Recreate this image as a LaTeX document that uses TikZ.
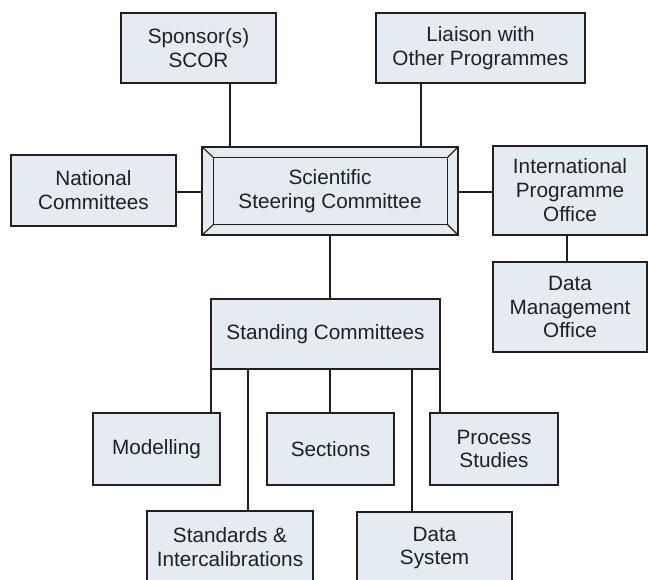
\documentclass[tikz,border=0pt]{standalone}
\usepackage{fontspec}
\setmainfont{Liberation Sans}
\usetikzlibrary{calc}
\definecolor{boxfill}{RGB}{228,236,242}
\definecolor{ink}{RGB}{35,31,32}
\begin{document}
\begin{tikzpicture}[x=1bp,y=-1bp,
  orgbox/.style={draw=ink,fill=boxfill,line width=1.1pt,inner sep=0pt,align=center,
    font=\fontsize{20.8}{24}\selectfont,text=ink},
  link/.style={draw=ink,line width=1.1pt}]
\useasboundingbox (0,0) rectangle (648,580);
% nodes
\node[orgbox,minimum width=155bp,minimum height=70bp] (spon) at (198.5,48) {Sponsor(s)\\SCOR};
\node[orgbox,minimum width=209bp,minimum height=70bp] (liai) at (480.5,48) {Liaison with\\Other Programmes};
\node[orgbox,minimum width=165bp,minimum height=71bp] (nat) at (93.5,190.5) {National\\Committees};
\node[orgbox,minimum width=256bp,minimum height=88bp] (ssc) at (330,191) {};
\node[orgbox,minimum width=154bp,minimum height=89bp] (ipo) at (570,190.5) {International\\Programme\\Office};
\node[orgbox,minimum width=154bp,minimum height=90bp] (dmo) at (570,307) {Data\\Management\\Office};
\node[orgbox,minimum width=229bp,minimum height=70bp] (stand) at (325.5,334) {Standing Committees};
\node[orgbox,minimum width=127bp,minimum height=72bp] (mod) at (156.5,449) {Modelling};
\node[orgbox,minimum width=127bp,minimum height=72bp] (sec) at (330.5,449) {Sections};
\node[orgbox,minimum width=128bp,minimum height=72bp] (proc) at (494,449) {Process\\Studies};
\node[orgbox,minimum width=166bp,minimum height=72bp] (stdi) at (230,547) {Standards \&\\Intercalibrations};
\node[orgbox,minimum width=155bp,minimum height=72bp] (dsys) at (434.5,548) {Data\\System};
% bevel of the steering committee box
\coordinate (inw) at ($(ssc.north west)+(12,11)$);
\coordinate (ine) at ($(ssc.north east)+(-11,11)$);
\coordinate (ise) at ($(ssc.south east)+(-11,-11)$);
\coordinate (isw) at ($(ssc.south west)+(12,-11)$);
\draw[link] (inw) -- (ine) -- (ise) -- (isw) -- cycle;
\draw[link] (ssc.north west) -- (inw) (ssc.north east) -- (ine)
  (ssc.south east) -- (ise) (ssc.south west) -- (isw);
\node[align=center,font=\fontsize{20.8}{24}\selectfont,text=ink] (ssct) at (ssc.center) {Scientific\\Steering Committee};
% connector positions
\coordinate (xa) at (230,0);
\coordinate (xb) at (421,0);
\coordinate (xc) at (567,0);
\coordinate (xd) at (330,0);
\coordinate (xe) at (211,0);
\coordinate (xf) at (248,0);
\coordinate (xg) at (412,0);
\coordinate (xh) at (440,0);
\coordinate (ya) at (0,192);
% connectors
\draw[link] (spon.south -| xa) -- (ssc.north -| xa);
\draw[link] (liai.south -| xb) -- (ssc.north -| xb);
\draw[link] (nat.east |- ya) -- (ssc.west |- ya);
\draw[link] (ssc.east |- ya) -- (ipo.west |- ya);
\draw[link] (ipo.south -| xc) -- (dmo.north -| xc);
\draw[link] (ssc.south -| xd) -- (stand.north -| xd);
\draw[link] (stand.south -| xe) -- (mod.north -| xe);
\draw[link] (stand.south -| xf) -- (stdi.north -| xf);
\draw[link] (stand.south -| xd) -- (sec.north -| xd);
\draw[link] (stand.south -| xg) -- (dsys.north -| xg);
\draw[link] (stand.south -| xh) -- (proc.north -| xh);
\end{tikzpicture}
\end{document}
